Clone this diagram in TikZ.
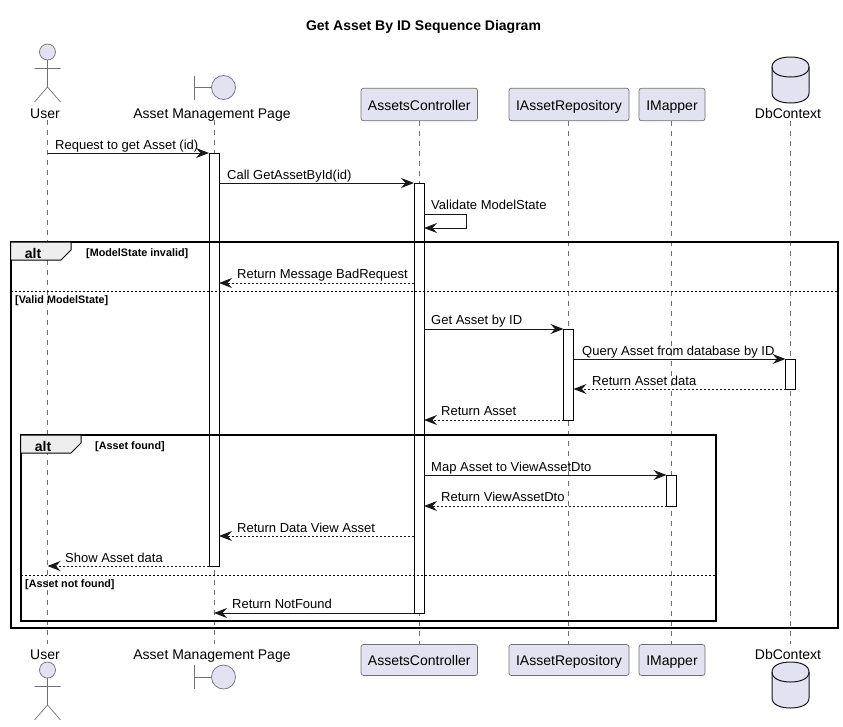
\documentclass[tikz,border=0pt]{standalone}
\usepackage{fontspec}
\setmainfont{Liberation Sans}
\usetikzlibrary{arrows.meta}
\definecolor{partfill}{HTML}{E2E2F0}
\definecolor{partline}{HTML}{181818}
\definecolor{lifegray}{HTML}{707070}
\definecolor{tabfill}{HTML}{EEEEEE}
\tikzset{
  partbox/.style={draw=lifegray,fill=partfill,line width=0.7pt,rounded corners=2.5pt,minimum height=32.5pt,inner sep=0pt,text height=14pt,text depth=3pt,font=\fontsize{14}{16}\selectfont},
  partname/.style={inner sep=0pt,anchor=base,font=\fontsize{14}{16}\selectfont},
  glyph/.style={draw=lifegray,fill=partfill,line width=0.7pt},
  lifeline/.style={draw=lifegray,line width=0.7pt,dash pattern=on 5pt off 5pt},
  actbar/.style={draw=black,fill=white,line width=1pt,minimum width=10pt,inner sep=0pt,outer sep=0pt},
  msg/.style={draw=partline,line width=1pt,-{Stealth[length=13pt,width=10pt,inset=4.5pt]}},
  reply/.style={msg,dash pattern=on 2pt off 2pt},
  msgtext/.style={inner sep=0pt,anchor=base west,font=\fontsize{13}{15}\selectfont},
  altframe/.style={draw=black,line width=2pt},
  alttab/.style={draw=black,fill=tabfill,line width=1pt},
  alttext/.style={inner sep=0pt,font=\bfseries\fontsize{14}{16}\selectfont},
  guardtext/.style={inner sep=0pt,anchor=base west,font=\bfseries\fontsize{10.8}{13}\selectfont},
  altsplit/.style={draw=black,line width=0.8pt,dash pattern=on 2pt off 2pt},
}
\newcommand{\actorglyph}[1]{%
  \draw[glyph] (47.5,#1) circle (8);
  \draw[lifegray,line width=0.7pt] (47.5,#1+8) -- (47.5,#1+35) -- (34.5,#1+50)
    (47.5,#1+35) -- (60.5,#1+50) (34.5,#1+16.5) -- (60.5,#1+16.5);
}
\newcommand{\boundaryglyph}[1]{%
  \draw[lifegray,line width=0.7pt] (194.5,#1-12) -- (194.5,#1+12) (194.5,#1) -- (211.5,#1);
  \draw[glyph] (223.5,#1) circle (12);
}
\newcommand{\dbglyph}[1]{%
  \draw[draw=partline,fill=partfill,line width=1pt] (772,#1+10) .. controls (772,#1+3) and (781,#1) .. (790.5,#1)
    .. controls (800,#1) and (809,#1+3) .. (809,#1+10) -- (809,#1+36)
    .. controls (809,#1+43) and (800,#1+46) .. (790.5,#1+46)
    .. controls (781,#1+46) and (772,#1+43) .. (772,#1+36) -- cycle;
  \draw[partline,line width=1pt] (772,#1+10) .. controls (772,#1+17) and (781,#1+20) .. (790.5,#1+20)
    .. controls (800,#1+20) and (809,#1+17) .. (809,#1+10);
}
\begin{document}
\begin{tikzpicture}[x=1pt,y=-1pt]
  \useasboundingbox (0,0) rectangle (843,726);
  \node[inner sep=0pt,anchor=base,font=\bfseries\fontsize{14}{16}\selectfont] (title) at (423.5,30.5) {Get Asset By ID Sequence Diagram};
  % lifelines
  \draw
    (47.5,120) coordinate (userTop) (47.5,644) coordinate (userEnd)
    (214,120) coordinate (pageTop) (214,644) coordinate (pageEnd)
    (419,121) coordinate (ctlTop) (419,644) coordinate (ctlEnd)
    (568.5,121) coordinate (repoTop) (568.5,644) coordinate (repoEnd)
    (671.5,121) coordinate (mapTop) (671.5,644) coordinate (mapEnd)
    (790.5,121) coordinate (dbTop) (790.5,644) coordinate (dbEnd);
  \begin{scope}[lifeline]
    \draw (userTop) to (userEnd);
    \draw (pageTop) to (pageEnd);
    \draw (ctlTop) to (ctlEnd);
    \draw (repoTop) to (repoEnd);
    \draw (mapTop) to (mapEnd);
    \draw (dbTop) to (dbEnd);
  \end{scope}
  % participants, top and bottom
  \actorglyph{52}
  \actorglyph{670}
  \boundaryglyph{87.5}
  \boundaryglyph{677}
  \dbglyph{57}
  \dbglyph{662}
  \draw
    (45,118) node[partname] (userA){User}
    (45,659) node[partname] (userB){User}
    (212,118) node[partname] (pageA){Asset Management Page}
    (212,659) node[partname] (pageB){Asset Management Page}
    (419.3,104.5) node[partbox,minimum width=116.5pt] (ctlA){AssetsController}
    (419.3,660) node[partbox,minimum width=116.5pt,minimum height=31pt] (ctlB){AssetsController}
    (569,104.5) node[partbox,minimum width=120pt] (repoA){IAssetRepository}
    (569,660) node[partbox,minimum width=120pt,minimum height=31pt] (repoB){IAssetRepository}
    (672,104.5) node[partbox,minimum width=66pt] (mapA){IMapper}
    (672,660) node[partbox,minimum width=66pt,minimum height=31pt] (mapB){IMapper}
    (788,118) node[partname] (dbA){DbContext}
    (788,659) node[partname] (dbB){DbContext};
  % activation bars
  \node[actbar,minimum height=413pt] (barPage) at (214,359.5) {};
  \node[actbar,minimum height=430pt] (barCtl) at (419,398) {};
  \node[actbar,minimum height=91pt] (barRepo) at (568.5,374.5) {};
  \node[actbar,minimum height=31pt] (barMap) at (671.5,490.5) {};
  \node[actbar,minimum height=30pt] (barDb) at (790.5,374) {};
  % alt frames
  \draw[altframe] (10.5,242) rectangle (838,628);
  \draw[alttab] (10.5,242) -- (71,242) -- (71,250) -- (61,260) -- (10.5,260) -- cycle;
  \node[alttext] (altOuter) at (33,253) {alt};
  \node[guardtext] (guardInvalid) at (86,256) {[ModelState invalid]};
  \draw[altsplit] (11,291) -- (838,291);
  \node[guardtext] (guardValid) at (15,303) {[Valid ModelState]};
  \draw[altframe] (20.5,435) rectangle (716,621);
  \draw[alttab] (20.5,435) -- (81,435) -- (81,443) -- (71,453) -- (20.5,453) -- cycle;
  \node[alttext] (altInner) at (43,446) {alt};
  \node[guardtext] (guardFound) at (95,449) {[Asset found]};
  \draw[altsplit] (21,575) -- (716,575);
  \node[guardtext] (guardMissing) at (25,587) {[Asset not found]};
  % message rows
  \draw
    (0,153) coordinate (rReq) (0,183) coordinate (rCall)
    (0,214) coordinate (rSelfA) (0,228) coordinate (rSelfB)
    (0,283) coordinate (rBad) (0,329) coordinate (rGet)
    (0,359) coordinate (rQuery) (0,389) coordinate (rData)
    (0,420) coordinate (rAsset) (0,475) coordinate (rMap)
    (0,506) coordinate (rDto) (0,536) coordinate (rView)
    (0,566) coordinate (rShow) (0,613) coordinate (rNot)
    (466,0) coordinate (selfTurn);
  \draw[msg] (userTop |- rReq) to (barPage.west |- rReq);
  \draw[msg] (barPage.east |- rCall) to (barCtl.west |- rCall);
  \draw[msg] (barCtl.east |- rSelfA) -- (selfTurn |- rSelfA) -- (selfTurn |- rSelfB) -- (barCtl.east |- rSelfB);
  \draw[reply] (barCtl.west |- rBad) to (barPage.east |- rBad);
  \draw[msg] (barCtl.east |- rGet) to (barRepo.west |- rGet);
  \draw[msg] (barRepo.east |- rQuery) to (barDb.west |- rQuery);
  \draw[reply] (barDb.west |- rData) to (barRepo.east |- rData);
  \draw[reply] (barRepo.west |- rAsset) to (barCtl.east |- rAsset);
  \draw[msg] (barCtl.east |- rMap) to (barMap.west |- rMap);
  \draw[reply] (barMap.west |- rDto) to (barCtl.east |- rDto);
  \draw[reply] (barCtl.west |- rView) to (barPage.east |- rView);
  \draw[reply] (barPage.west |- rShow) to (userTop |- rShow);
  \draw[msg] (barCtl.west |- rNot) to (pageTop |- rNot);
  % message labels
  \node[msgtext] (txtReq) at (55,149) {Request to get Asset (id)};
  \node[msgtext] (txtCall) at (227,179) {Call GetAssetById(id)};
  \node[msgtext] (txtSelf) at (431,209) {Validate ModelState};
  \node[msgtext] (txtBad) at (237,278) {Return Message BadRequest};
  \node[msgtext] (txtGet) at (431,324) {Get Asset by ID};
  \node[msgtext] (txtQuery) at (582,355) {Query Asset from database by ID};
  \node[msgtext] (txtData) at (592,385) {Return Asset data};
  \node[msgtext] (txtAsset) at (441,415) {Return Asset};
  \node[msgtext] (txtMap) at (431,471) {Map Asset to ViewAssetDto};
  \node[msgtext] (txtDto) at (441,501) {Return ViewAssetDto};
  \node[msgtext] (txtView) at (237,532) {Return Data View Asset};
  \node[msgtext] (txtShow) at (65,562) {Show Asset data};
  \node[msgtext] (txtNot) at (232,608) {Return NotFound};
\end{tikzpicture}
\end{document}
